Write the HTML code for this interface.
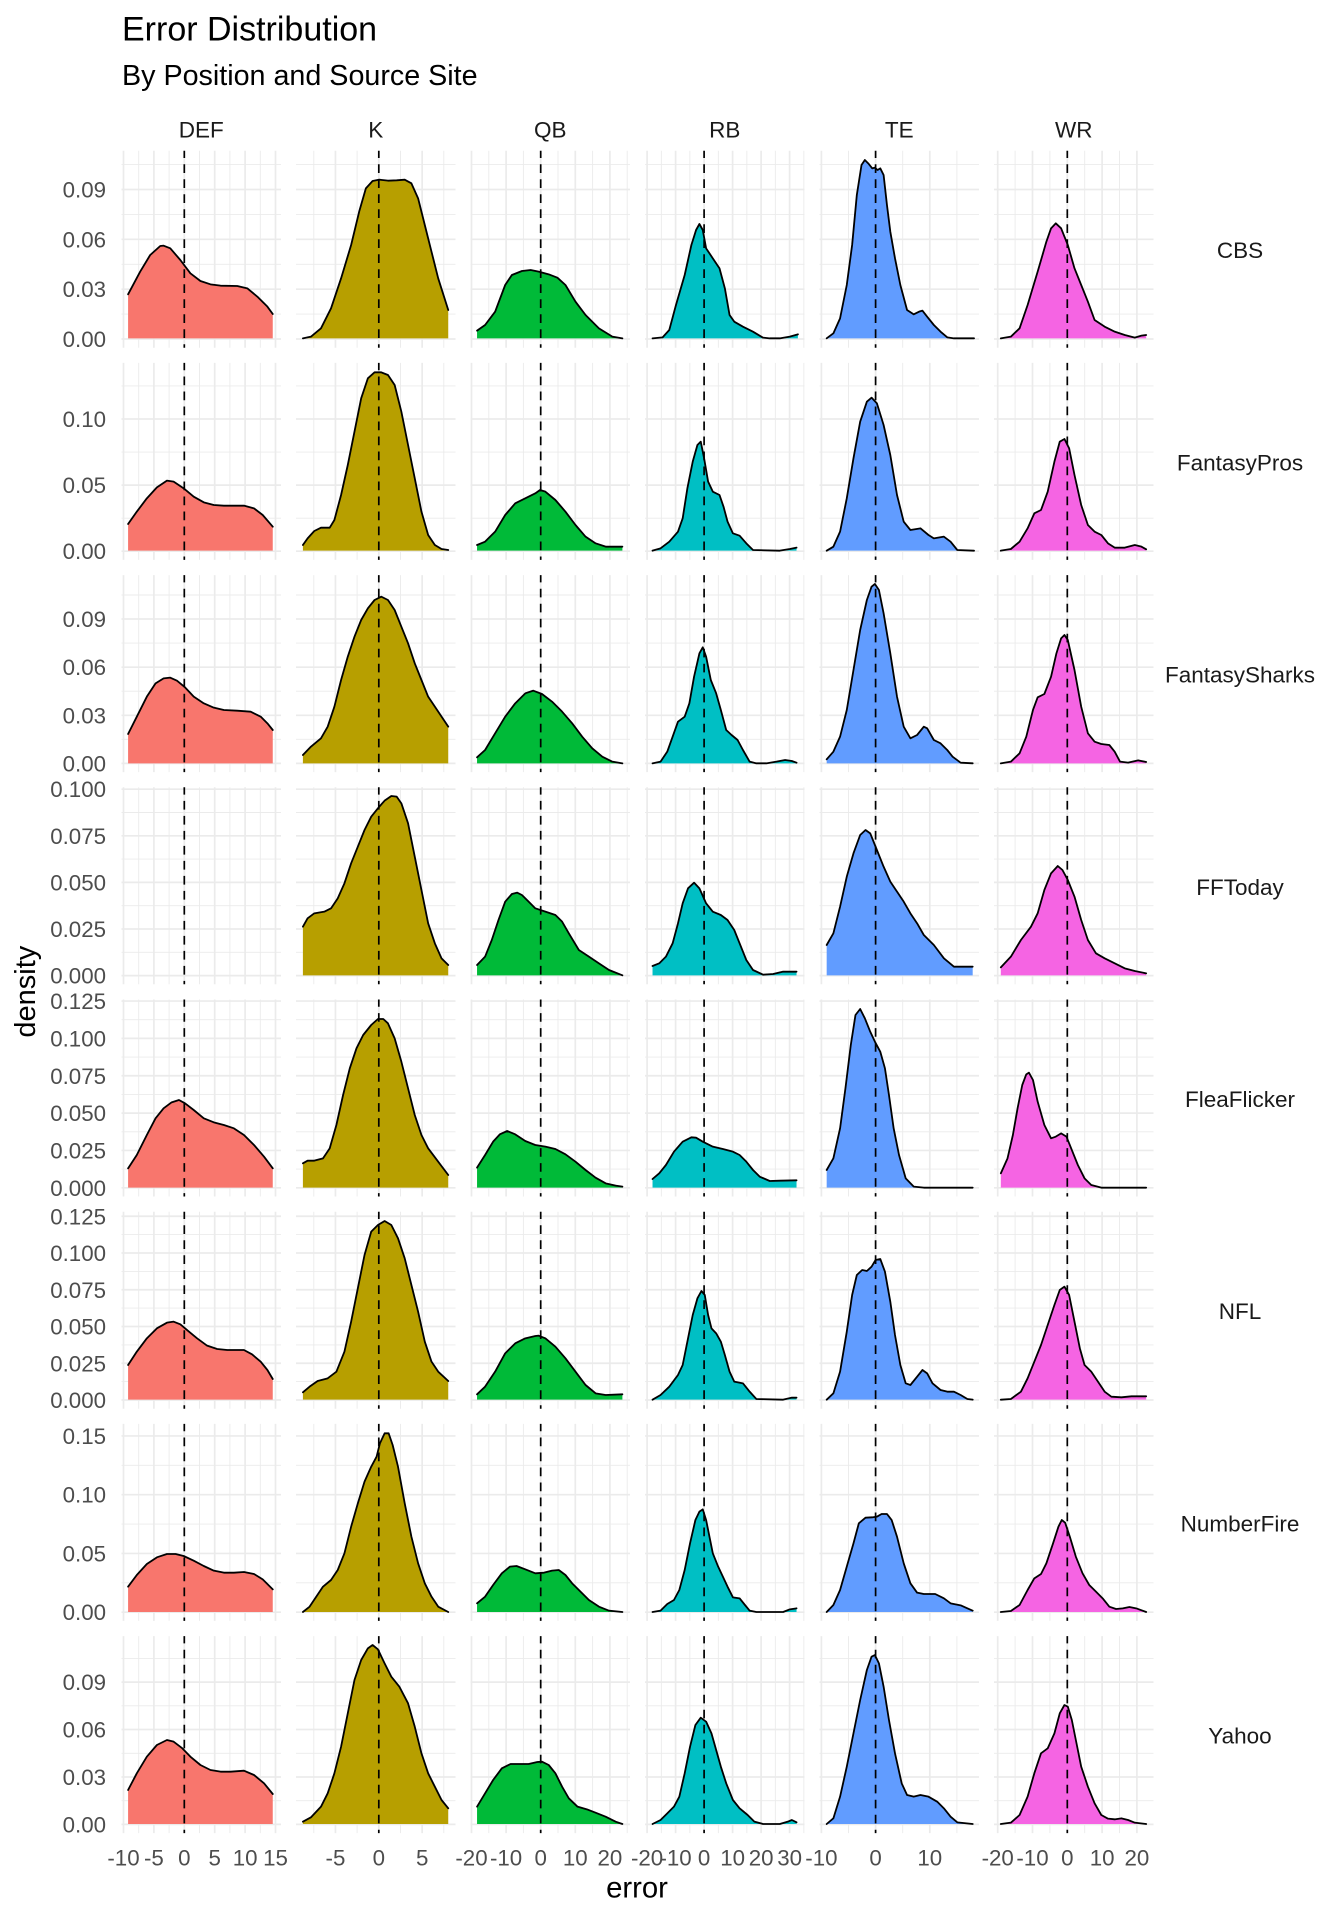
<!DOCTYPE html>
<html>
<head>
<meta charset="utf-8">
<style>
html,body{margin:0;padding:0;background:#fff;}
svg{display:block;font-family:"Liberation Sans",Arial,sans-serif;}
.s{fill:none;stroke:#000;stroke-width:1.8;stroke-linejoin:round;stroke-linecap:round;vector-effect:non-scaling-stroke;}
.yt{font-size:22.3px;fill:#4D4D4D;text-anchor:end;}
.xt{font-size:22.3px;fill:#4D4D4D;text-anchor:middle;}
.st{font-size:22.5px;fill:#1A1A1A;text-anchor:middle;}
</style>
</head>
<body>
<svg width="1344" height="1920" viewBox="0 0 1344 1920" xmlns="http://www.w3.org/2000/svg">
<rect width="1344" height="1920" fill="#fff"/>
<defs>
<g id="vall" stroke="#EBEBEB" fill="none">
<path stroke-width=".9" d="M138.7,0V197M169.1,0V197M199.5,0V197M229.9,0V197M260.3,0V197
M313.8,0V197M357.1,0V197M400.5,0V197M443.8,0V197
M488.8,0V197M523.4,0V197M558,0V197M592.6,0V197M627.2,0V197
M661.35,0V197M689.85,0V197M718.35,0V197M746.85,0V197M775.35,0V197M803.85,0V197
M848.5,0V197M902.7,0V197M956.9,0V197
M1015.1,0V197M1049.9,0V197M1084.7,0V197M1119.5,0V197"/>
<path stroke-width="1.7" d="M123.5,0V197M153.9,0V197M184.3,0V197M214.7,0V197M245.1,0V197M275.5,0V197
M335.45,0V197M378.8,0V197M422.15,0V197
M471.5,0V197M506.1,0V197M540.7,0V197M575.3,0V197M609.9,0V197
M647.1,0V197M675.6,0V197M704.1,0V197M732.6,0V197M761.1,0V197M789.6,0V197
M821.4,0V197M875.6,0V197M929.8,0V197
M997.7,0V197M1032.5,0V197M1067.3,0V197M1102.1,0V197M1136.9,0V197"/>
</g>
<g id="hall" stroke="#EBEBEB" fill="none">
<path stroke-width=".9" d="M0,314.1H159.5M0,264.3H159.5M0,214.4H159.5M0,164.6H159.5
M0,518.2H159.5M0,452.1H159.5M0,385.9H159.5
M0,739.3H159.5M0,691.2H159.5M0,643.1H159.5M0,595H159.5
M0,952.3H159.5M0,905.7H159.5M0,859.1H159.5M0,812.5H159.5
M0,1169.1H159.5M0,1131.8H159.5M0,1094.4H159.5M0,1057.1H159.5M0,1019.7H159.5
M0,1381.6H159.5M0,1344.9H159.5M0,1308.1H159.5M0,1271.4H159.5M0,1234.6H159.5
M0,1582.8H159.5M0,1524.1H159.5M0,1465.3H159.5
M0,1800.7H159.5M0,1753.3H159.5M0,1705.8H159.5M0,1658.4H159.5"/>
<path stroke-width="1.7" d="M0,339H159.5M0,289.2H159.5M0,239.3H159.5M0,189.5H159.5
M0,551.2H159.5M0,485.1H159.5M0,419H159.5
M0,763.4H159.5M0,715.3H159.5M0,667.2H159.5M0,619H159.5
M0,975.6H159.5M0,929H159.5M0,882.4H159.5M0,835.8H159.5M0,789.2H159.5
M0,1187.8H159.5M0,1150.45H159.5M0,1113.1H159.5M0,1075.75H159.5M0,1038.4H159.5M0,1001.05H159.5
M0,1400H159.5M0,1363.25H159.5M0,1326.5H159.5M0,1289.75H159.5M0,1253H159.5M0,1216.25H159.5
M0,1612.2H159.5M0,1553.45H159.5M0,1494.7H159.5M0,1435.95H159.5
M0,1824.4H159.5M0,1777H159.5M0,1729.5H159.5M0,1682.1H159.5"/>
</g>
<g id="dl" stroke="#000" stroke-width="1.7" stroke-dasharray="8.7 6.3" stroke-dashoffset="1.4" fill="none">
<path d="M184.3,0V197"/><path d="M378.8,0V197"/><path d="M540.7,0V197"/><path d="M704.1,0V197"/><path d="M875.6,0V197"/><path d="M1067.3,0V197"/>
</g>
</defs>

<!-- grid -->
<use href="#hall" x="121.5"/>
<use href="#hall" x="296"/>
<use href="#hall" x="470.5"/>
<use href="#hall" x="645"/>
<use href="#hall" x="819.5"/>
<use href="#hall" x="994"/>
<use href="#vall" y="150.7"/>
<use href="#vall" y="362.9"/>
<use href="#vall" y="575.1"/>
<use href="#vall" y="787.3"/>
<use href="#vall" y="999.5"/>
<use href="#vall" y="1211.7"/>
<use href="#vall" y="1423.9"/>
<use href="#vall" y="1636.1"/>

<!-- Rows 0-1 -->
<g transform="translate(110 145) scale(0.669792 0.333333)">
<path fill="#F8766D" d="M27,580 27,448 45,380 60,330 75,303 80,302 90,310 105,345 120,385 135,408 150,418 165,422 190,423 205,430 220,455 235,485 243,507 243,580Z"/>
<path class="s" d="M27,448 45,380 60,330 75,303 80,302 90,310 105,345 120,385 135,408 150,418 165,422 190,423 205,430 220,455 235,485 243,507"/>
<path fill="#B79F00" d="M288,580 300,575 315,550 330,490 345,400 360,300 372,200 382,130 392,108 402,104 415,107 428,106 440,104 450,115 460,160 470,240 480,320 490,400 505,495 505,580Z"/>
<path class="s" d="M288,580 300,575 315,550 330,490 345,400 360,300 372,200 382,130 392,108 402,104 415,107 428,106 440,104 450,115 460,160 470,240 480,320 490,400 505,495"/>
<path fill="#00BA38" d="M548,580 548,557 560,540 575,500 590,420 600,390 615,378 628,375 640,380 655,388 668,398 680,420 695,470 710,510 730,550 750,575 765,580Z"/>
<path class="s" d="M548,557 560,540 575,500 590,420 600,390 615,378 628,375 640,380 655,388 668,398 680,420 695,470 710,510 730,550 750,575 765,580"/>
<path fill="#00BFC4" d="M810,580 825,577 835,555 845,480 858,390 868,300 875,255 880,237 885,255 890,310 900,340 910,370 918,430 925,510 932,530 945,545 960,560 975,578 985,580 1000,580 1015,575 1027,568 1027,580Z"/>
<path class="s" d="M810,580 825,577 835,555 845,480 858,390 868,300 875,255 880,237 885,255 890,310 900,340 910,370 918,430 925,510 932,530 945,545 960,560 975,578 985,580 1000,580 1015,575 1027,568"/>
<path fill="#619CFF" d="M1070,580 1080,565 1090,520 1100,420 1108,300 1115,150 1122,60 1127,45 1132,55 1138,70 1142,68 1146,75 1150,70 1155,90 1160,180 1165,260 1172,340 1180,420 1190,495 1200,508 1208,500 1213,497 1220,515 1230,540 1240,560 1250,577 1260,580 1290,580Z"/>
<path class="s" d="M1070,580 1080,565 1090,520 1100,420 1108,300 1115,150 1122,60 1127,45 1132,55 1138,70 1142,68 1146,75 1150,70 1155,90 1160,180 1165,260 1172,340 1180,420 1190,495 1200,508 1208,500 1213,497 1220,515 1230,540 1240,560 1250,577 1260,580 1290,580"/>
<path fill="#F564E3" d="M1330,580 1345,575 1358,550 1370,480 1385,380 1398,290 1405,250 1412,235 1420,250 1430,300 1440,370 1450,420 1460,470 1470,525 1485,545 1500,560 1515,570 1530,578 1540,572 1547,570 1547,580Z"/>
<path class="s" d="M1330,580 1345,575 1358,550 1370,480 1385,380 1398,290 1405,250 1412,235 1420,250 1430,300 1440,370 1450,420 1460,470 1470,525 1485,545 1500,560 1515,570 1530,578 1540,572 1547,570"/>

<path fill="#F8766D" d="M27,1217 27,1137 40,1100 55,1060 70,1027 85,1007 95,1010 110,1030 125,1055 140,1072 155,1080 170,1082 200,1082 215,1090 228,1110 243,1145 243,1217Z"/>
<path class="s" d="M27,1137 40,1100 55,1060 70,1027 85,1007 95,1010 110,1030 125,1055 140,1072 155,1080 170,1082 200,1082 215,1090 228,1110 243,1145"/>
<path fill="#B79F00" d="M288,1217 288,1200 295,1180 305,1158 315,1148 328,1148 335,1125 345,1050 355,960 365,860 375,760 385,700 395,682 405,682 415,690 425,720 435,800 445,900 455,1000 465,1100 475,1170 485,1200 495,1212 505,1215 505,1217Z"/>
<path class="s" d="M288,1200 295,1180 305,1158 315,1148 328,1148 335,1125 345,1050 355,960 365,860 375,760 385,700 395,682 405,682 415,690 425,720 435,800 445,900 455,1000 465,1100 475,1170 485,1200 495,1212 505,1215"/>
<path fill="#00BA38" d="M548,1217 548,1200 560,1190 575,1160 590,1110 605,1075 620,1060 635,1045 642,1035 650,1040 665,1065 680,1100 695,1140 710,1175 725,1195 740,1205 765,1205 765,1217Z"/>
<path class="s" d="M548,1200 560,1190 575,1160 590,1110 605,1075 620,1060 635,1045 642,1035 650,1040 665,1065 680,1100 695,1140 710,1175 725,1195 740,1205 765,1205"/>
<path fill="#00BFC4" d="M810,1217 822,1210 835,1190 848,1160 855,1120 862,1030 870,950 877,900 882,890 887,940 893,1010 900,1040 910,1050 916,1085 922,1130 930,1165 940,1172 950,1195 960,1215 1000,1217 1015,1212 1025,1208 1025,1217Z"/>
<path class="s" d="M810,1217 822,1210 835,1190 848,1160 855,1120 862,1030 870,950 877,900 882,890 887,940 893,1010 900,1040 910,1050 916,1085 922,1130 930,1165 940,1172 950,1195 960,1215 1000,1217 1015,1212 1025,1208"/>
<path fill="#619CFF" d="M1070,1217 1080,1205 1090,1160 1100,1060 1110,940 1120,830 1130,770 1137,758 1145,775 1155,840 1165,930 1175,1050 1185,1130 1195,1155 1210,1150 1222,1170 1230,1180 1245,1175 1255,1190 1265,1215 1290,1217Z"/>
<path class="s" d="M1070,1217 1080,1205 1090,1160 1100,1060 1110,940 1120,830 1130,770 1137,758 1145,775 1155,840 1165,930 1175,1050 1185,1130 1195,1155 1210,1150 1222,1170 1230,1180 1245,1175 1255,1190 1265,1215 1290,1217"/>
<path fill="#F564E3" d="M1330,1217 1345,1212 1358,1190 1370,1150 1380,1105 1390,1095 1400,1040 1410,950 1418,890 1425,882 1432,910 1440,990 1450,1080 1460,1140 1470,1160 1480,1170 1490,1195 1500,1208 1515,1208 1530,1200 1540,1205 1547,1213 1547,1217Z"/>
<path class="s" d="M1330,1217 1345,1212 1358,1190 1370,1150 1380,1105 1390,1095 1400,1040 1410,950 1418,890 1425,882 1432,910 1440,990 1450,1080 1460,1140 1470,1160 1480,1170 1490,1195 1500,1208 1515,1208 1530,1200 1540,1205 1547,1213"/>
</g>

<!-- Rows 2-3 -->
<g transform="translate(110 570) scale(0.669792 0.333333)">
<path fill="#F8766D" d="M27,580 27,492 40,440 55,380 68,340 80,325 90,323 100,332 112,352 125,380 140,400 155,413 170,420 190,422 210,425 225,440 235,460 243,480 243,580Z"/>
<path class="s" d="M27,492 40,440 55,380 68,340 80,325 90,323 100,332 112,352 125,380 140,400 155,413 170,420 190,422 210,425 225,440 235,460 243,480"/>
<path fill="#B79F00" d="M288,580 288,555 300,530 315,505 325,470 335,410 345,330 355,260 365,200 375,150 385,115 395,90 405,80 415,90 425,120 435,170 445,220 455,280 465,330 475,380 490,425 505,470 505,580Z"/>
<path class="s" d="M288,555 300,530 315,505 325,470 335,410 345,330 355,260 365,200 375,150 385,115 395,90 405,80 415,90 425,120 435,170 445,220 455,280 465,330 475,380 490,425 505,470"/>
<path fill="#00BA38" d="M548,580 548,562 560,540 575,490 590,440 605,400 620,370 632,362 645,372 660,395 675,425 690,460 705,500 720,535 735,560 750,575 765,580Z"/>
<path class="s" d="M548,562 560,540 575,490 590,440 605,400 620,370 632,362 645,372 660,395 675,425 690,460 705,500 720,535 735,560 750,575 765,580"/>
<path fill="#00BFC4" d="M810,580 822,575 832,545 840,500 848,455 858,440 865,400 872,320 880,250 885,232 890,260 897,330 905,370 912,420 920,480 928,495 937,510 945,540 955,575 965,580 980,580 995,575 1008,570 1018,573 1025,578 1025,580Z"/>
<path class="s" d="M810,580 822,575 832,545 840,500 848,455 858,440 865,400 872,320 880,250 885,232 890,260 897,330 905,370 912,420 920,480 928,495 937,510 945,540 955,575 965,580 980,580 995,575 1008,570 1018,573 1025,578"/>
<path fill="#619CFF" d="M1070,580 1070,568 1080,545 1090,500 1100,420 1110,300 1120,180 1130,90 1137,50 1142,42 1148,60 1155,130 1165,250 1175,380 1185,470 1195,505 1205,495 1215,470 1220,475 1230,510 1240,520 1250,540 1258,560 1270,578 1288,580Z"/>
<path class="s" d="M1070,568 1080,545 1090,500 1100,420 1110,300 1120,180 1130,90 1137,50 1142,42 1148,60 1155,130 1165,250 1175,380 1185,470 1195,505 1205,495 1215,470 1220,475 1230,510 1240,520 1250,540 1258,560 1270,578 1288,580"/>
<path fill="#F564E3" d="M1330,580 1345,575 1358,550 1368,500 1378,420 1385,382 1395,372 1405,320 1413,250 1420,205 1425,195 1430,210 1440,300 1450,410 1460,490 1470,515 1480,522 1492,525 1500,545 1508,575 1520,578 1535,571 1547,576 1547,580Z"/>
<path class="s" d="M1330,580 1345,575 1358,550 1368,500 1378,420 1385,382 1395,372 1405,320 1413,250 1420,205 1425,195 1430,210 1440,300 1450,410 1460,490 1470,515 1480,522 1492,525 1500,545 1508,575 1520,578 1535,571 1547,576"/>

<path fill="#B79F00" d="M288,1216 288,1070 295,1045 305,1030 320,1025 330,1015 340,985 350,940 360,880 370,830 380,780 390,740 400,715 410,692 420,678 428,680 435,700 445,760 455,860 465,960 475,1060 485,1120 495,1165 505,1185 505,1216Z"/>
<path class="s" d="M288,1070 295,1045 305,1030 320,1025 330,1015 340,985 350,940 360,880 370,830 380,780 390,740 400,715 410,692 420,678 428,680 435,700 445,760 455,860 465,960 475,1060 485,1120 495,1165 505,1185"/>
<path fill="#00BA38" d="M548,1216 548,1185 560,1160 570,1110 580,1050 590,995 600,972 608,968 615,975 625,995 635,1015 650,1025 665,1035 675,1055 685,1090 700,1140 715,1160 730,1180 745,1200 765,1216Z"/>
<path class="s" d="M548,1185 560,1160 570,1110 580,1050 590,995 600,972 608,968 615,975 625,995 635,1015 650,1025 665,1035 675,1055 685,1090 700,1140 715,1160 730,1180 745,1200 765,1216"/>
<path fill="#00BFC4" d="M810,1216 810,1188 820,1180 830,1160 840,1120 848,1060 855,1000 863,955 872,938 880,955 890,1000 900,1025 912,1035 922,1050 932,1080 940,1120 950,1170 960,1200 975,1214 990,1212 1005,1205 1025,1205 1025,1216Z"/>
<path class="s" d="M810,1188 820,1180 830,1160 840,1120 848,1060 855,1000 863,955 872,938 880,955 890,1000 900,1025 912,1035 922,1050 932,1080 940,1120 950,1170 960,1200 975,1214 990,1212 1005,1205 1025,1205"/>
<path fill="#619CFF" d="M1070,1216 1070,1125 1080,1090 1090,1010 1100,920 1110,850 1120,795 1128,780 1135,790 1145,840 1155,890 1165,935 1175,965 1185,995 1195,1030 1205,1060 1215,1095 1230,1125 1245,1165 1260,1190 1288,1190 1288,1216Z"/>
<path class="s" d="M1070,1125 1080,1090 1090,1010 1100,920 1110,850 1120,795 1128,780 1135,790 1145,840 1155,890 1165,935 1175,965 1185,995 1195,1030 1205,1060 1215,1095 1230,1125 1245,1165 1260,1190 1288,1190"/>
<path fill="#F564E3" d="M1330,1216 1330,1192 1345,1160 1360,1110 1375,1070 1385,1030 1395,960 1405,910 1415,888 1422,900 1430,930 1440,980 1450,1050 1460,1110 1472,1150 1485,1165 1500,1180 1515,1195 1530,1203 1547,1210 1547,1216Z"/>
<path class="s" d="M1330,1192 1345,1160 1360,1110 1375,1070 1385,1030 1395,960 1405,910 1415,888 1422,900 1430,930 1440,980 1450,1050 1460,1110 1472,1150 1485,1165 1500,1180 1515,1195 1530,1203 1547,1210"/>
</g>

<!-- Rows 4-5 -->
<g transform="translate(110 995) scale(0.669792 0.333333)">
<path fill="#F8766D" d="M27,578 27,520 40,480 55,420 68,370 80,340 92,322 103,315 112,325 125,345 140,370 155,382 170,390 185,400 200,420 215,450 230,485 243,520 243,578Z"/>
<path class="s" d="M27,520 40,480 55,420 68,370 80,340 92,322 103,315 112,325 125,345 140,370 155,382 170,390 185,400 200,420 215,450 230,485 243,520"/>
<path fill="#B79F00" d="M288,578 288,505 295,497 305,497 318,490 328,460 338,390 348,300 358,220 368,160 378,120 390,90 400,72 408,72 415,85 425,130 435,200 445,280 455,360 465,420 475,460 490,500 505,540 505,578Z"/>
<path class="s" d="M288,505 295,497 305,497 318,490 328,460 338,390 348,300 358,220 368,160 378,120 390,90 400,72 408,72 415,85 425,130 435,200 445,280 455,360 465,420 475,460 490,500 505,540"/>
<path fill="#00BA38" d="M548,578 548,518 560,480 572,440 582,418 593,408 605,418 620,438 635,450 650,455 665,462 680,478 695,500 710,525 725,548 740,565 755,572 765,575 765,578Z"/>
<path class="s" d="M548,518 560,480 572,440 582,418 593,408 605,418 620,438 635,450 650,455 665,462 680,478 695,500 710,525 725,548 740,565 755,572 765,575"/>
<path fill="#00BFC4" d="M810,578 810,552 820,535 830,510 842,470 855,440 868,427 875,428 885,440 900,455 915,462 930,470 940,480 950,500 960,525 970,545 985,558 1000,557 1025,556 1025,578Z"/>
<path class="s" d="M810,552 820,535 830,510 842,470 855,440 868,427 875,428 885,440 900,455 915,462 930,470 940,480 950,500 960,525 970,545 985,558 1000,557 1025,556"/>
<path fill="#619CFF" d="M1070,578 1070,525 1080,490 1090,400 1098,280 1106,150 1113,60 1120,42 1127,70 1135,110 1142,140 1150,170 1157,220 1163,300 1170,400 1178,480 1188,550 1200,575 1215,578 1288,578Z"/>
<path class="s" d="M1070,525 1080,490 1090,400 1098,280 1106,150 1113,60 1120,42 1127,70 1135,110 1142,140 1150,170 1157,220 1163,300 1170,400 1178,480 1188,550 1200,575 1215,578 1288,578"/>
<path fill="#F564E3" d="M1330,578 1330,535 1340,490 1348,420 1355,340 1362,270 1368,238 1372,233 1378,255 1385,320 1395,390 1405,430 1412,425 1420,415 1428,425 1435,460 1445,510 1455,550 1465,570 1480,578 1547,578Z"/>
<path class="s" d="M1330,535 1340,490 1348,420 1355,340 1362,270 1368,238 1372,233 1378,255 1385,320 1395,390 1405,430 1412,425 1420,415 1428,425 1435,460 1445,510 1455,550 1465,570 1480,578 1547,578"/>

<path fill="#F8766D" d="M27,1214 27,1110 40,1070 55,1030 70,1000 85,983 95,980 105,988 118,1010 130,1030 145,1052 160,1062 175,1065 200,1065 212,1078 225,1100 235,1125 243,1152 243,1214Z"/>
<path class="s" d="M27,1110 40,1070 55,1030 70,1000 85,983 95,980 105,988 118,1010 130,1030 145,1052 160,1062 175,1065 200,1065 212,1078 225,1100 235,1125 243,1152"/>
<path fill="#B79F00" d="M288,1214 288,1192 298,1175 310,1158 325,1150 338,1130 350,1070 360,980 370,880 380,780 390,710 400,690 410,678 420,690 430,730 440,790 450,870 460,950 470,1040 480,1100 490,1130 505,1158 505,1214Z"/>
<path class="s" d="M288,1192 298,1175 310,1158 325,1150 338,1130 350,1070 360,980 370,880 380,780 390,710 400,690 410,678 420,690 430,730 440,790 450,870 460,950 470,1040 480,1100 490,1130 505,1158"/>
<path fill="#00BA38" d="M548,1214 548,1198 560,1175 575,1130 590,1075 605,1045 620,1030 635,1023 640,1022 650,1030 665,1055 680,1090 695,1130 710,1170 725,1195 740,1200 765,1198 765,1214Z"/>
<path class="s" d="M548,1198 560,1175 575,1130 590,1075 605,1045 620,1030 635,1023 640,1022 650,1030 665,1055 680,1090 695,1130 710,1170 725,1195 740,1200 765,1198"/>
<path fill="#00BFC4" d="M810,1214 822,1200 835,1175 848,1140 855,1110 862,1040 870,960 877,910 883,888 888,900 893,960 898,1000 905,1015 912,1040 918,1080 925,1130 932,1160 945,1165 955,1190 965,1212 1005,1214 1018,1208 1025,1208 1025,1214Z"/>
<path class="s" d="M810,1214 822,1200 835,1175 848,1140 855,1110 862,1040 870,960 877,910 883,888 888,900 893,960 898,1000 905,1015 912,1040 918,1080 925,1130 932,1160 945,1165 955,1190 965,1212 1005,1214 1018,1208 1025,1208"/>
<path fill="#619CFF" d="M1070,1214 1080,1195 1090,1130 1100,1010 1108,900 1115,840 1123,825 1130,828 1137,815 1143,795 1150,792 1157,830 1165,920 1172,1020 1180,1110 1188,1165 1195,1170 1205,1145 1213,1125 1220,1135 1228,1165 1240,1185 1250,1190 1260,1190 1270,1200 1280,1212 1288,1214Z"/>
<path class="s" d="M1070,1214 1080,1195 1090,1130 1100,1010 1108,900 1115,840 1123,825 1130,828 1137,815 1143,795 1150,792 1157,830 1165,920 1172,1020 1180,1110 1188,1165 1195,1170 1205,1145 1213,1125 1220,1135 1228,1165 1240,1185 1250,1190 1260,1190 1270,1200 1280,1212 1288,1214"/>
<path fill="#F564E3" d="M1330,1214 1345,1212 1360,1190 1370,1150 1380,1100 1390,1050 1400,990 1410,930 1418,885 1425,875 1432,900 1440,980 1448,1060 1455,1110 1465,1130 1475,1160 1485,1190 1495,1205 1510,1207 1525,1204 1547,1204 1547,1214Z"/>
<path class="s" d="M1330,1214 1345,1212 1360,1190 1370,1150 1380,1100 1390,1050 1400,990 1410,930 1418,885 1425,875 1432,900 1440,980 1448,1060 1455,1110 1465,1130 1475,1160 1485,1190 1495,1205 1510,1207 1525,1204 1547,1204"/>
</g>

<!-- Rows 6-7 -->
<g transform="translate(110 1420) scale(0.669792 0.333333)">
<path fill="#F8766D" d="M27,576 27,500 40,465 55,432 70,412 85,402 98,402 110,408 125,422 140,438 155,452 170,458 185,458 200,456 215,462 228,478 243,508 243,576Z"/>
<path class="s" d="M27,500 40,465 55,432 70,412 85,402 98,402 110,408 125,422 140,438 155,452 170,458 185,458 200,456 215,462 228,478 243,508"/>
<path fill="#B79F00" d="M288,576 298,560 308,530 318,500 330,480 340,450 350,400 360,320 370,250 380,185 390,140 398,110 403,70 410,40 416,40 422,75 430,140 440,250 450,350 460,430 470,490 480,530 490,560 505,576Z"/>
<path class="s" d="M288,576 298,560 308,530 318,500 330,480 340,450 350,400 360,320 370,250 380,185 390,140 398,110 403,70 410,40 416,40 422,75 430,140 440,250 450,350 460,430 470,490 480,530 490,560 505,576"/>
<path fill="#00BA38" d="M548,576 548,550 560,530 572,495 585,460 597,440 607,438 620,448 635,460 648,458 660,452 670,450 680,465 690,490 700,510 715,540 730,560 745,572 765,576Z"/>
<path class="s" d="M548,550 560,530 572,495 585,460 597,440 607,438 620,448 635,460 648,458 660,452 670,450 680,465 690,490 700,510 715,540 730,560 745,572 765,576"/>
<path fill="#00BFC4" d="M810,576 822,572 832,552 842,540 850,510 858,450 866,370 874,300 880,275 885,268 890,300 895,350 900,400 908,440 915,470 922,500 930,532 940,535 948,555 955,572 965,576 1005,576 1015,568 1025,565 1025,576Z"/>
<path class="s" d="M810,576 822,572 832,552 842,540 850,510 858,450 866,370 874,300 880,275 885,268 890,300 895,350 900,400 908,440 915,470 922,500 930,532 940,535 948,555 955,572 965,576 1005,576 1015,568 1025,565"/>
<path fill="#619CFF" d="M1070,576 1080,555 1090,510 1100,440 1110,370 1118,310 1128,293 1138,292 1145,290 1152,282 1160,282 1167,300 1175,350 1185,430 1195,490 1205,518 1215,522 1232,522 1245,535 1255,550 1270,556 1280,565 1288,572 1288,576Z"/>
<path class="s" d="M1070,576 1080,555 1090,510 1100,440 1110,370 1118,310 1128,293 1138,292 1145,290 1152,282 1160,282 1167,300 1175,350 1185,430 1195,490 1205,518 1215,522 1232,522 1245,535 1255,550 1270,556 1280,565 1288,572"/>
<path fill="#F564E3" d="M1330,576 1345,573 1358,555 1370,510 1380,475 1390,462 1398,430 1408,370 1416,320 1421,300 1426,308 1433,350 1442,410 1452,460 1462,495 1472,515 1482,535 1492,560 1502,567 1512,565 1522,561 1532,565 1547,576Z"/>
<path class="s" d="M1330,576 1345,573 1358,555 1370,510 1380,475 1390,462 1398,430 1408,370 1416,320 1421,300 1426,308 1433,350 1442,410 1452,460 1462,495 1472,515 1482,535 1492,560 1502,567 1512,565 1522,561 1532,565 1547,576"/>

<path fill="#F8766D" d="M27,1212 27,1110 40,1060 55,1010 70,975 85,960 95,965 108,985 120,1010 135,1035 150,1050 165,1055 180,1055 200,1052 215,1065 230,1090 243,1122 243,1212Z"/>
<path class="s" d="M27,1110 40,1060 55,1010 70,975 85,960 95,965 108,985 120,1010 135,1035 150,1050 165,1055 180,1055 200,1052 215,1065 230,1090 243,1122"/>
<path fill="#B79F00" d="M288,1212 288,1205 300,1192 315,1160 325,1120 335,1060 345,980 355,880 365,780 375,720 385,685 392,675 400,688 410,730 420,770 432,800 445,850 455,920 465,1000 475,1060 485,1100 495,1140 505,1165 505,1212Z"/>
<path class="s" d="M288,1205 300,1192 315,1160 325,1120 335,1060 345,980 355,880 365,780 375,720 385,685 392,675 400,688 410,730 420,770 432,800 445,850 455,920 465,1000 475,1060 485,1100 495,1140 505,1165"/>
<path fill="#00BA38" d="M548,1212 548,1160 560,1120 572,1080 585,1045 598,1032 612,1032 625,1032 638,1026 645,1025 655,1035 665,1060 675,1100 685,1135 698,1160 712,1168 725,1178 740,1190 755,1205 765,1212Z"/>
<path class="s" d="M548,1160 560,1120 572,1080 585,1045 598,1032 612,1032 625,1032 638,1026 645,1025 655,1035 665,1060 675,1100 685,1135 698,1160 712,1168 725,1178 740,1190 755,1205 765,1212"/>
<path fill="#00BFC4" d="M810,1212 822,1200 832,1180 842,1160 850,1130 858,1060 866,980 874,915 882,893 890,905 898,940 905,990 912,1040 920,1090 930,1140 940,1165 952,1185 962,1205 975,1212 1000,1212 1012,1205 1018,1200 1025,1207 1025,1212Z"/>
<path class="s" d="M810,1212 822,1200 832,1180 842,1160 850,1130 858,1060 866,980 874,915 882,893 890,905 898,940 905,990 912,1040 920,1090 930,1140 940,1165 952,1185 962,1205 975,1212 1000,1212 1012,1205 1018,1200 1025,1207"/>
<path fill="#619CFF" d="M1070,1212 1080,1195 1090,1130 1100,1040 1110,940 1120,840 1130,750 1137,710 1142,705 1148,730 1155,800 1163,900 1172,1000 1182,1090 1190,1125 1200,1130 1210,1125 1222,1130 1235,1145 1245,1165 1255,1190 1265,1207 1288,1212Z"/>
<path class="s" d="M1070,1212 1080,1195 1090,1130 1100,1040 1110,940 1120,840 1130,750 1137,710 1142,705 1148,730 1155,800 1163,900 1172,1000 1182,1090 1190,1125 1200,1130 1210,1125 1222,1130 1235,1145 1245,1165 1255,1190 1265,1207 1288,1212"/>
<path fill="#F564E3" d="M1330,1212 1345,1208 1358,1185 1370,1130 1380,1060 1390,1000 1400,985 1410,940 1418,880 1425,855 1430,860 1436,900 1442,960 1450,1040 1460,1100 1470,1150 1480,1185 1490,1196 1500,1198 1510,1195 1520,1200 1530,1208 1547,1212Z"/>
<path class="s" d="M1330,1212 1345,1208 1358,1185 1370,1130 1380,1060 1390,1000 1400,985 1410,940 1418,880 1425,855 1430,860 1436,900 1442,960 1450,1040 1460,1100 1470,1150 1480,1185 1490,1196 1500,1198 1510,1195 1520,1200 1530,1208 1547,1212"/>
</g>

<!-- dashed zero lines -->
<use href="#dl" y="150.7"/>
<use href="#dl" y="362.9"/>
<use href="#dl" y="575.1"/>
<use href="#dl" y="787.3"/>
<use href="#dl" y="999.5"/>
<use href="#dl" y="1211.7"/>
<use href="#dl" y="1423.9"/>
<use href="#dl" y="1636.1"/>

<!-- titles -->
<text x="122" y="40.7" font-size="34" fill="#000">Error Distribution</text>
<text x="122" y="85" font-size="28.7" fill="#000">By Position and Source Site</text>

<!-- column strips -->
<text class="st" x="201.25" y="137.7">DEF</text>
<text class="st" x="375.75" y="137.7">K</text>
<text class="st" x="550.25" y="137.7">QB</text>
<text class="st" x="724.75" y="137.7">RB</text>
<text class="st" x="899.25" y="137.7">TE</text>
<text class="st" x="1073.75" y="137.7">WR</text>

<!-- row strips -->
<text class="st" x="1240" y="258.2">CBS</text>
<text class="st" x="1240" y="470.4">FantasyPros</text>
<text class="st" x="1240" y="682.6">FantasySharks</text>
<text class="st" x="1240" y="894.8">FFToday</text>
<text class="st" x="1240" y="1107">FleaFlicker</text>
<text class="st" x="1240" y="1319.2">NFL</text>
<text class="st" x="1240" y="1531.4">NumberFire</text>
<text class="st" x="1240" y="1743.6">Yahoo</text>

<!-- y tick labels -->
<text class="yt" x="106" y="347">0.00</text>
<text class="yt" x="106" y="297.2">0.03</text>
<text class="yt" x="106" y="247.3">0.06</text>
<text class="yt" x="106" y="197.5">0.09</text>

<text class="yt" x="106" y="559.2">0.00</text>
<text class="yt" x="106" y="493.1">0.05</text>
<text class="yt" x="106" y="427">0.10</text>

<text class="yt" x="106" y="771.4">0.00</text>
<text class="yt" x="106" y="723.3">0.03</text>
<text class="yt" x="106" y="675.2">0.06</text>
<text class="yt" x="106" y="627">0.09</text>

<text class="yt" x="106" y="983.6">0.000</text>
<text class="yt" x="106" y="937">0.025</text>
<text class="yt" x="106" y="890.4">0.050</text>
<text class="yt" x="106" y="843.8">0.075</text>
<text class="yt" x="106" y="797.2">0.100</text>

<text class="yt" x="106" y="1195.8">0.000</text>
<text class="yt" x="106" y="1158.45">0.025</text>
<text class="yt" x="106" y="1121.1">0.050</text>
<text class="yt" x="106" y="1083.75">0.075</text>
<text class="yt" x="106" y="1046.4">0.100</text>
<text class="yt" x="106" y="1009.05">0.125</text>

<text class="yt" x="106" y="1408">0.000</text>
<text class="yt" x="106" y="1371.25">0.025</text>
<text class="yt" x="106" y="1334.5">0.050</text>
<text class="yt" x="106" y="1297.75">0.075</text>
<text class="yt" x="106" y="1261">0.100</text>
<text class="yt" x="106" y="1224.25">0.125</text>

<text class="yt" x="106" y="1620.2">0.00</text>
<text class="yt" x="106" y="1561.45">0.05</text>
<text class="yt" x="106" y="1502.7">0.10</text>
<text class="yt" x="106" y="1443.95">0.15</text>

<text class="yt" x="106" y="1832.4">0.00</text>
<text class="yt" x="106" y="1785">0.03</text>
<text class="yt" x="106" y="1737.5">0.06</text>
<text class="yt" x="106" y="1690.1">0.09</text>

<!-- x tick labels -->
<text class="xt" x="123.5" y="1865.7">-10</text>
<text class="xt" x="153.9" y="1865.7">-5</text>
<text class="xt" x="184.3" y="1865.7">0</text>
<text class="xt" x="214.7" y="1865.7">5</text>
<text class="xt" x="245.1" y="1865.7">10</text>
<text class="xt" x="275.5" y="1865.7">15</text>

<text class="xt" x="335.45" y="1865.7">-5</text>
<text class="xt" x="378.8" y="1865.7">0</text>
<text class="xt" x="422.15" y="1865.7">5</text>

<text class="xt" x="471.5" y="1865.7">-20</text>
<text class="xt" x="506.1" y="1865.7">-10</text>
<text class="xt" x="540.7" y="1865.7">0</text>
<text class="xt" x="575.3" y="1865.7">10</text>
<text class="xt" x="609.9" y="1865.7">20</text>

<text class="xt" x="647.1" y="1865.7">-20</text>
<text class="xt" x="675.6" y="1865.7">-10</text>
<text class="xt" x="704.1" y="1865.7">0</text>
<text class="xt" x="732.6" y="1865.7">10</text>
<text class="xt" x="761.1" y="1865.7">20</text>
<text class="xt" x="789.6" y="1865.7">30</text>

<text class="xt" x="821.4" y="1865.7">-10</text>
<text class="xt" x="875.6" y="1865.7">0</text>
<text class="xt" x="929.8" y="1865.7">10</text>

<text class="xt" x="997.7" y="1865.7">-20</text>
<text class="xt" x="1032.5" y="1865.7">-10</text>
<text class="xt" x="1067.3" y="1865.7">0</text>
<text class="xt" x="1102.1" y="1865.7">10</text>
<text class="xt" x="1136.9" y="1865.7">20</text>

<!-- axis titles -->
<text x="637" y="1897.7" text-anchor="middle" font-size="29.3" fill="#000">error</text>
<text transform="translate(35 991.7) rotate(-90)" text-anchor="middle" font-size="29" fill="#000">density</text>
</svg>
</body>
</html>
